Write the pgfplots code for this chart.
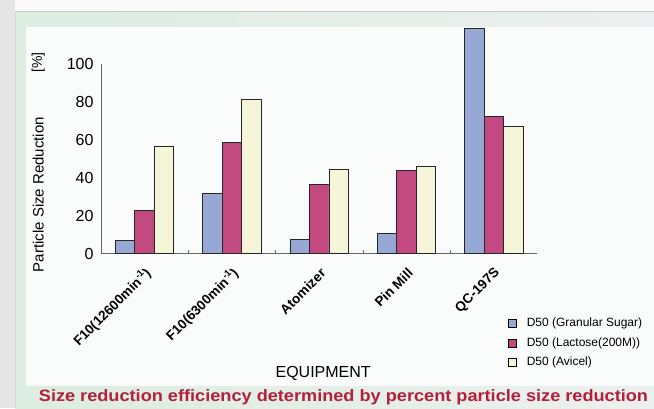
\documentclass[border=0pt]{standalone}
\usepackage{fontspec}
\setmainfont{Liberation Sans}
\usepackage{pgfplots}
\pgfplotsset{compat=1.18}
\definecolor{cblue}{HTML}{97A8D5}
\definecolor{cmag}{HTML}{C24A80}
\definecolor{ccream}{HTML}{F6F5DA}
\definecolor{capred}{HTML}{B2203A}
\definecolor{panel}{HTML}{FAFCFB}
\definecolor{gleft}{HTML}{DCEDE1}
\definecolor{gright}{HTML}{ECEFEF}
\begin{document}
\begin{tikzpicture}[x=1pt,y=1pt]
% background
\path[use as bounding box] (0,0) rectangle (654,408);
\fill[gray!12] (0,0) rectangle (654,408);
\fill[gray!20] (0,0) rectangle (15,408);
\fill[white!96!gray] (15,396) rectangle (654,408);
\shade[left color=gleft, right color=gright] (15,0) rectangle (654,396);
\draw[gray!40, line width=1.2pt] (15,396.5) -- (654,396.5);
\draw[gray!30, line width=1pt] (15,0) -- (15,396);
\fill[panel] (26,22) rectangle (654,381);
\begin{axis}[
  at={(101pt,154.5pt)}, anchor=south west,
  scale only axis, width=436.5pt, height=190pt,
  xmin=-0.5, xmax=4.5, ymin=0, ymax=100,
  clip=false,
  ybar=0pt, bar width=19.5pt,
  axis x line*=bottom, axis y line*=left,
  axis line style={gray!80!black, line width=0.7pt},
  xtick={0,1,2,3,4},
  xticklabels={F10(12600min\textsuperscript{-1}),F10(6300min\textsuperscript{-1}),Atomizer,Pin Mill,QC-197S},
  minor xtick={0.5,1.5,2.5,3.5},
  major tick length=0pt,
  minor tick length=4pt,
  tick align=inside,
  minor tick style={gray!80!black, line width=0.7pt},
  ytick={0,20,40,60,80,100},
  /pgf/number format/assume math mode=true,
  yticklabel style={font=\fontsize{16}{16}\selectfont, xshift=-4pt},
  xticklabel style={font=\bfseries\fontsize{13.5}{13.5}\selectfont, rotate=45, anchor=east, yshift=-15pt, xshift=-6pt},
  ylabel={Particle Size Reduction},
  ylabel style={at={(axis description cs:-0.144,0.31)}, anchor=center, font=\fontsize{15}{15}\selectfont},
  xlabel={EQUIPMENT},
  xlabel style={at={(axis description cs:0.509,-0.629)}, anchor=center, font=\fontsize{16}{16}\selectfont},
  every axis plot/.append style={draw=black!85, line width=0.8pt},
  legend style={at={(axis description cs:0.925,-0.315)}, anchor=north west, draw=none, fill=none,
    font=\fontsize{12}{12}\selectfont, row sep=3.5pt,
    nodes={inner sep=2pt, text height=9pt, text depth=3pt},
    /tikz/every odd column/.append style={column sep=8pt}},
  legend cell align=left,
  legend image code/.code={\draw[#1, draw=black, line width=0.8pt] (0pt,-4pt) rectangle (8pt,4pt);},
]
\addplot[fill=cblue] coordinates {(0,7.1) (1,31.5) (2,7.5) (3,10.4) (4,118.5)};
\addplot[fill=cmag] coordinates {(0,22.5) (1,58.3) (2,36.2) (3,43.8) (4,72.0)};
\addplot[fill=ccream] coordinates {(0,56.6) (1,81.0) (2,44.5) (3,45.7) (4,66.7)};
\legend{D50 (Granular Sugar),D50 (Lactose(200M)),D50 (Avicel)}
\node[rotate=90, font=\fontsize{14}{14}\selectfont] at (axis description cs:-0.144,1.005) {[\%]};
\end{axis}
\node[anchor=center, text=capred, xscale=1.1, font=\bfseries\fontsize{16.5}{16.5}\selectfont] at (343.5,11) {Size reduction efficiency determined by percent particle size reduction};
\end{tikzpicture}
\end{document}
